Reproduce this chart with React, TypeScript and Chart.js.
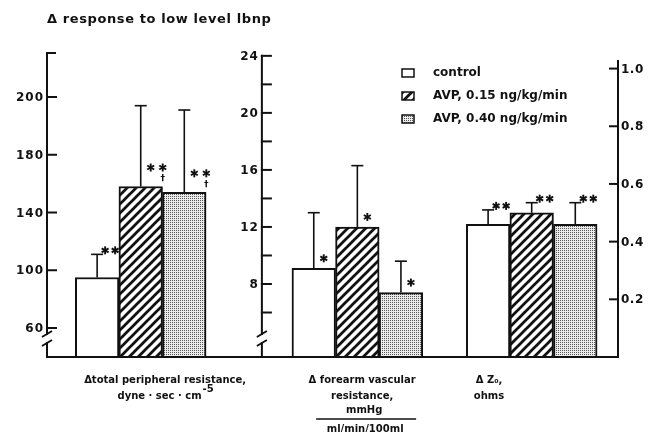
import React, { useEffect, useRef } from "react";
import { Chart, registerables } from "chart.js";

Chart.register(...registerables);

// ---------------- data ----------------
const chartTitle = "Δ response to low level lbnp";
const categoryLabels: string[][] = [
  ["Δtotal peripheral resistance,", "dyne · sec · cm^-5"],
  ["Δ forearm vascular", "resistance,", "mmHg|ml/min/100ml"],
  ["Δ Z₀,", "ohms"],
];
const seriesNames = ["control", "AVP, 0.15 ng/kg/min", "AVP, 0.40 ng/kg/min"];
const controlValues = [95, 9.1, 0.46];
const avp015Values = [158, 12.0, 0.5];
const avp040Values = [154, 7.4, 0.46];
const controlErrors = [16, 3.9, 0.05];
const avp015Errors = [56, 4.3, 0.035];
const avp040Errors = [57, 2.2, 0.075];
const controlMarks = ["**", "*", "**"];
const avp015Marks = ["**†", "*", "**"];
const avp040Marks = ["**†", "*", "**"];
const leftTickValues = [60, 100, 140, 180, 220];
const leftTickLabels = ["60", "100", "140", "180", "200"];
const middleTickValues = [6, 8, 10, 12, 14, 16, 18, 20, 22, 24];
const middleTickLabels = ["", "8", "", "12", "", "16", "", "20", "", "24"];
const rightTickValues = [0.2, 0.4, 0.6, 0.8, 1.0];
const rightTickLabels = ["0.2", "0.4", "0.6", "0.8", "1.0"];

// ---------------- layout ----------------
const AXIS_IDS = ["yL", "yM", "yR"];
const AXIS_RANGES = [
  [39.9, 250.5],
  [2.88, 24.2],
  [0, 1.054],
];
const PANEL_OFFSET = [1.15, 6.12, 10.12];
const MIDDLE_AXIS_X = 4.93;
const X_MAX = 13.1;
const LABEL_CENTER = [2.71, 7.23, 10.14];
const FONT = "'DejaVu Sans', sans-serif";
const INK = "#111";

function makeHatch(): CanvasPattern {
  const c = document.createElement("canvas");
  c.width = 9;
  c.height = 9;
  const g = c.getContext("2d")!;
  g.fillStyle = "#fff";
  g.fillRect(0, 0, 9, 9);
  g.strokeStyle = INK;
  g.lineWidth = 2.7;
  for (const o of [-9, 0, 9]) {
    g.beginPath();
    g.moveTo(o - 1, 10);
    g.lineTo(o + 10, -1);
    g.stroke();
  }
  return g.createPattern(c, "repeat")!;
}

function makeDots(): CanvasPattern {
  const c = document.createElement("canvas");
  c.width = 2;
  c.height = 2;
  const g = c.getContext("2d")!;
  g.fillStyle = "#ececec";
  g.fillRect(0, 0, 2, 2);
  g.fillStyle = "#555";
  g.fillRect(0, 0, 1, 1);
  return g.createPattern(c, "repeat")!;
}

export default function App() {
  const ref = useRef<HTMLCanvasElement>(null);

  useEffect(() => {
    const canvas = ref.current!;
    const hatch = makeHatch();
    const dots = makeDots();
    const fills: any[] = ["#ffffff", hatch, dots];
    const values = [controlValues, avp015Values, avp040Values];
    const errors = [controlErrors, avp015Errors, avp040Errors];
    const marks = [controlMarks, avp015Marks, avp040Marks];

    const datasets: any[] = categoryLabels.map((lines, p) => ({
      label: lines[0],
      data: values.map((series, s) => ({ x: PANEL_OFFSET[p] + s, y: series[p] })),
      yAxisID: AXIS_IDS[p],
      backgroundColor: fills,
      borderColor: INK,
      borderWidth: 2,
      borderSkipped: "bottom",
      grouped: false,
      barPercentage: 1,
      categoryPercentage: 1,
    }));

    const figure = {
      id: "figure",
      afterDraw(chart: any) {
        const ctx: CanvasRenderingContext2D = chart.ctx;
        const a = chart.chartArea;
        const xs = chart.scales.x;
        const ys = AXIS_IDS.map((id) => chart.scales[id]);
        const base = a.bottom;
        ctx.save();
        ctx.strokeStyle = INK;
        ctx.fillStyle = INK;
        const seg = (x1: number, y1: number, x2: number, y2: number, w = 2) => {
          ctx.lineWidth = w;
          ctx.beginPath();
          ctx.moveTo(x1, y1);
          ctx.lineTo(x2, y2);
          ctx.stroke();
        };
        const text = (
          s: string,
          x: number,
          y: number,
          size: number,
          align: CanvasTextAlign = "left",
          spacing = 0
        ) => {
          ctx.font = `bold ${size}px ${FONT}`;
          (ctx as any).letterSpacing = `${spacing}px`;
          ctx.textAlign = align;
          ctx.textBaseline = "middle";
          ctx.fillText(s, x, y);
          (ctx as any).letterSpacing = "0px";
        };
        const star = (cx: number, cy: number, r = 4) => {
          for (const deg of [90, 30, -30]) {
            const t = (deg * Math.PI) / 180;
            const dx = r * Math.cos(t);
            const dy = r * Math.sin(t);
            seg(cx - dx, cy - dy, cx + dx, cy + dy, 1.9);
          }
        };

        const xL = xs.getPixelForValue(0);
        const xM = xs.getPixelForValue(MIDDLE_AXIS_X);
        const xR = xs.getPixelForValue(X_MAX);

        // baseline
        seg(xL - 1, base, xR + 1, base);

        // error bars + significance marks
        categoryLabels.forEach((_, p) => {
          const meta = chart.getDatasetMeta(p);
          const yScale = ys[p];
          values.forEach((series, s) => {
            const el = meta.data[s];
            const x = el.x;
            const top = el.y;
            const errTop = yScale.getPixelForValue(series[p] + errors[s][p]);
            seg(x, top, x, errTop, 1.6);
            seg(x - 6, errTop, x + 6, errTop, 1.6);
            const m = marks[s][p];
            const dagger = m.includes("†");
            const n = m.replace("†", "").length;
            let cy: number;
            let x0: number;
            let step: number;
            if (top - errTop < 28) {
              cy = errTop - 4;
              x0 = x + 8;
              step = 10;
            } else {
              cy = top - (dagger ? 19 : 10);
              x0 = x + 10;
              step = 12;
            }
            for (let i = 0; i < n; i++) star(x0 + i * step, cy);
            if (dagger) text("†", x0 + (n - 1) * step, cy + 11, 9, "center");
          });
        });

        // axes with break marks
        const b1 = base - 23;
        const b2 = base - 14;
        const brokenAxis = (x: number, top: number) => {
          seg(x, top - 1, x, b1 + 1);
          seg(x, b2 - 1, x, base);
          seg(x - 5, b1 + 3, x + 5, b1 - 3);
          seg(x - 5, b2 + 3, x + 5, b2 - 3);
        };

        // left axis
        brokenAxis(xL, a.top);
        seg(xL - 1, a.top, xL + 9, a.top);
        leftTickValues.forEach((v, i) => {
          const y = ys[0].getPixelForValue(v);
          seg(xL, y, xL + 10, y);
          text(leftTickLabels[i], xL - 3, y + 1, 12, "right", 1);
        });

        // middle axis
        const topM = ys[1].getPixelForValue(middleTickValues[middleTickValues.length - 1]);
        brokenAxis(xM, topM);
        middleTickValues.forEach((v, i) => {
          const y = ys[1].getPixelForValue(v);
          seg(xM - 1, y, xM + 10, y);
          if (middleTickLabels[i]) text(middleTickLabels[i], xM - 3, y + 1, 12, "right", 1);
        });

        // right axis
        const topR = ys[2].getPixelForValue(1.03);
        seg(xR, topR, xR, base);
        rightTickValues.forEach((v, i) => {
          const y = ys[2].getPixelForValue(v);
          seg(xR - 9, y, xR, y);
          text(rightTickLabels[i], xR + 3, y + 1, 12, "left", 0.5);
        });

        // category labels
        categoryLabels.forEach((lines, p) => {
          const cx = xs.getPixelForValue(LABEL_CENTER[p]);
          lines.forEach((line, li) => {
            const y = base + 23 + li * 16;
            if (line.includes("|")) {
              const [num, den] = line.split("|");
              text(num, cx + 2, y - 2, 10, "center");
              seg(cx - 46, y + 7, cx + 54, y + 7, 1.5);
              text(den, cx + 3, y + 17, 10, "center");
            } else if (line.includes("^")) {
              const [main, sup] = line.split("^");
              ctx.font = `bold 10px ${FONT}`;
              const w1 = ctx.measureText(main).width;
              const w2 = ctx.measureText(sup).width;
              const x0 = cx - (w1 + w2) / 2;
              text(main, x0, y, 10, "left");
              text(sup, x0 + w1 + 1, y - 7, 10, "left");
            } else {
              text(line, cx, y, 10, "center");
            }
          });
        });

        // legend
        const lx = 402;
        seriesNames.forEach((name, s) => {
          const y = 73 + s * 23;
          ctx.fillStyle = fills[s];
          ctx.fillRect(lx, y - 4, 12, 8);
          ctx.strokeStyle = INK;
          ctx.lineWidth = 1.5;
          ctx.strokeRect(lx, y - 4, 12, 8);
          ctx.fillStyle = INK;
          text(name, lx + 31, y, 12, "left");
        });

        // title
        text(chartTitle, 47, 20, 13, "left", 0.6);

        ctx.restore();
      },
    };

    const scales: any = {
      x: {
        type: "linear",
        min: 0,
        max: X_MAX,
        display: false,
        offset: false,
        afterBuildTicks: (s: any) => {
          s.ticks = [{ value: 0 }];
        },
      },
    };
    AXIS_IDS.forEach((id, i) => {
      scales[id] = {
        type: "linear",
        position: i === 2 ? "right" : "left",
        min: AXIS_RANGES[i][0],
        max: AXIS_RANGES[i][1],
        display: false,
      };
    });

    const chart = new Chart(canvas, {
      type: "bar",
      data: { datasets },
      options: {
        responsive: false,
        maintainAspectRatio: false,
        animation: false,
        events: [],
        layout: { padding: { left: 47, right: 30, top: 53, bottom: 75 } },
        plugins: { legend: { display: false }, tooltip: { enabled: false }, title: { display: false } },
        scales,
      },
      plugins: [figure as any],
    });
    return () => chart.destroy();
  }, []);

  return (
    <div style={{ position: "absolute", left: 0, top: 0, width: 648, height: 432, background: "#fff" }}>
      <canvas ref={ref} width={648} height={432} style={{ display: "block" }} />
    </div>
  );
}
